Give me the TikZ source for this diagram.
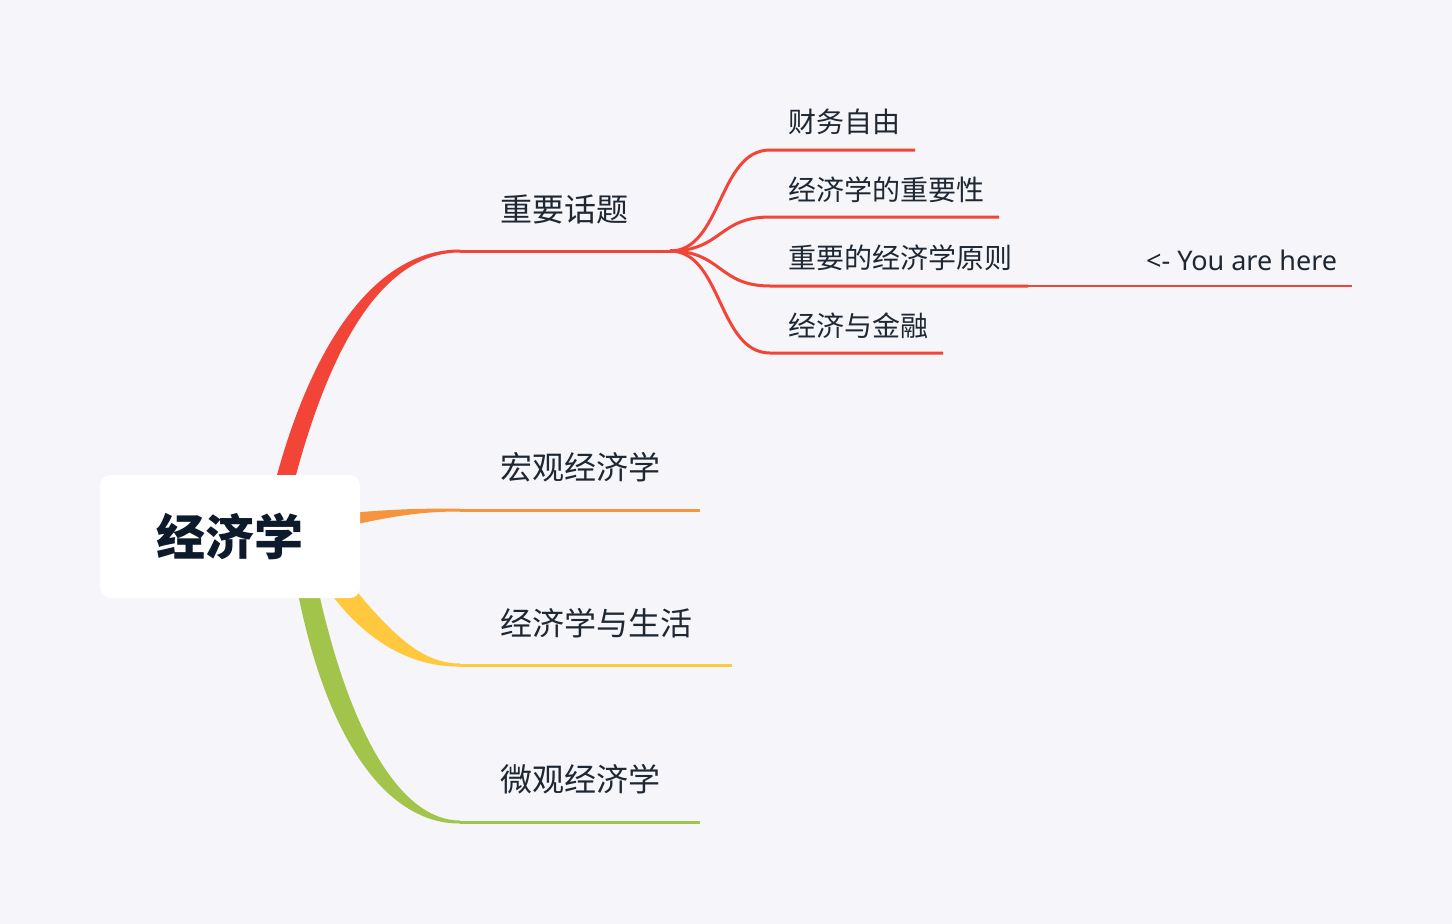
\documentclass[tikz,border=0pt]{standalone}
\usepackage{fontspec}
\usetikzlibrary{calc}
\newfontfamily\cjk{Noto Sans CJK SC}
\newfontfamily\latin{Noto Sans}
\definecolor{paper}{HTML}{F5F5FA}
\definecolor{ink}{HTML}{1F2733}
\definecolor{rootink}{HTML}{0D1A2B}
\definecolor{bred}{HTML}{F24437}
\definecolor{borange}{HTML}{F7953F}
\definecolor{byellow}{HTML}{FFC83D}
\definecolor{bgreen}{HTML}{A3C44A}

\begin{document}
\begin{tikzpicture}[x=1pt, y=-1pt,
  topic/.style={anchor=west, inner sep=0pt, text=ink, font=\cjk\fontsize{32}{36}\selectfont},
  subtopic/.style={topic, font=\cjk\fontsize{28}{32}\selectfont},
  twig/.style={line width=3pt},
]
  \fill[paper] (0,0) rectangle (1452,924);
  \useasboundingbox (0,0) rectangle (1452,924);
  % ends of the main branches
  \coordinate (m1) at (460,251);
  \coordinate (m2) at (460,510);
  \coordinate (m3) at (460,665);
  \coordinate (m4) at (460,822);
  % main branches, thick at the root and thin at the end
  \fill[bred] (273,490) .. controls (312,338) and (378,249.5) .. ($(m1)+(0,-1.5)$)
    -- ($(m1)+(0,1.5)$) .. controls (384,252.5) and (330,342) .. (292,490) -- cycle;
  \fill[borange] (340,514) .. controls (390,509) and (420,508.5) .. ($(m2)+(0,-1.5)$)
    -- ($(m2)+(0,1.5)$) .. controls (425,511.5) and (395,515) .. (340,528) -- cycle;
  \fill[byellow] (346,578) .. controls (395,640) and (425,663.5) .. ($(m3)+(0,-1.5)$)
    -- ($(m3)+(0,1.5)$) .. controls (420,667) and (372,650) .. (328,590) -- cycle;
  \fill[bgreen] (312,560) .. controls (345,730) and (400,820.5) .. ($(m4)+(0,-1.5)$)
    -- ($(m4)+(0,1.5)$) .. controls (385,824) and (320,735) .. (292,560) -- cycle;
  % root
  \node[fill=white, rounded corners=10pt, minimum width=260pt, minimum height=123pt,
    inner sep=0pt, text=rootink, font=\cjk\bfseries\fontsize{49}{52}\selectfont]
    (root) at (230,536.5) {经济学};
  % main topics
  \coordinate (hub) at (670,251);
  \draw[twig, bred] (m1) -- (hub);
  \draw[twig, borange] (m2) -- (700,510);
  \draw[twig, byellow] (m3) -- (732,665);
  \draw[twig, bgreen] (m4) -- (700,822);
  \node[topic] (t1) at (500,209) {重要话题};
  \node[topic] (t2) at (500,467) {宏观经济学};
  \node[topic] (t3) at (500,623) {经济学与生活};
  \node[topic] (t4) at (500,779) {微观经济学};
  % sub topics of 重要话题
  \coordinate (s1) at (770,150);
  \coordinate (s2) at (770,217);
  \coordinate (s3) at (770,286);
  \coordinate (s4) at (770,353);
  \draw[twig, bred] (hub) .. controls +(52,0) and +(-52,0) .. (s1) -- (915,150);
  \draw[twig, bred] (hub) .. controls +(52,0) and +(-52,0) .. (s2) -- (999,217);
  \draw[twig, bred] (hub) .. controls +(52,0) and +(-52,0) .. (s3) -- (1028,286);
  \draw[twig, bred] (hub) .. controls +(52,0) and +(-52,0) .. (s4) -- (943,353);
  \node[subtopic] (u1) at (788,122) {财务自由};
  \node[subtopic] (u2) at (788,190) {经济学的重要性};
  \node[subtopic] (u3) at (788,258) {重要的经济学原则};
  \node[subtopic] (u4) at (788,326) {经济与金融};
  % marker
  \draw[line width=2pt, bred] (1028,286) -- (1352,286);
  \node[anchor=base west, inner sep=0pt, text=ink, font=\latin\fontsize{27}{30}\selectfont]
    (here) at (1146,270) {<- You are here};
\end{tikzpicture}
\end{document}
